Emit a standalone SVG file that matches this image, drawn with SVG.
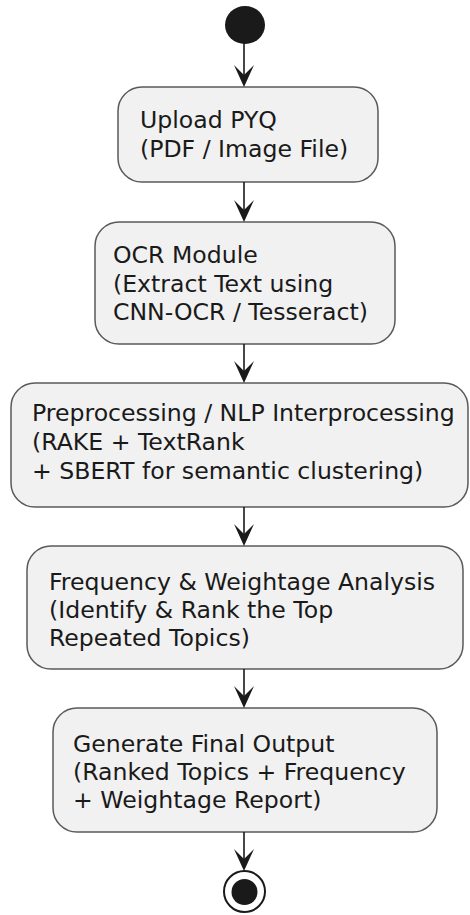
<svg xmlns="http://www.w3.org/2000/svg" width="470" height="915" viewBox="0 0 470 915">
<style>
.box{fill:#f1f1f1;stroke:#5a5a5a;stroke-width:1.5}
.t{font-family:"DejaVu Sans",sans-serif;font-size:23.6px;fill:#1a1a1a}
.ln{stroke:#1a1a1a;stroke-width:1.6;fill:none}
.ah{fill:#1a1a1a}
</style>
<defs>
<path id="head" d="M0,0 L-10,-22 L0,-12 L10,-22 Z"/>
</defs>
<rect width="470" height="915" fill="#ffffff"/>
<g id="start"><ellipse cx="245" cy="25" rx="20" ry="19" fill="#1a1a1a"/></g>
<g id="n1"><rect class="box" x="118" y="87" width="260" height="95" rx="24"/>
<text class="t" x="140" y="128">Upload PYQ</text><text class="t" x="140" y="157">(PDF / Image File)</text></g>
<g id="n2"><rect class="box" x="95" y="222" width="300" height="122" rx="24"/>
<text class="t" x="113" y="263">OCR Module</text><text class="t" x="113" y="292">(Extract Text using</text><text class="t" x="113" y="320">CNN-OCR / Tesseract)</text></g>
<g id="n3"><rect class="box" x="11" y="383" width="457" height="124" rx="24"/>
<text class="t" x="32" y="421">Preprocessing / NLP Interprocessing</text><text class="t" x="32" y="450">(RAKE + TextRank</text><text class="t" x="32" y="479">+ SBERT for semantic clustering)</text></g>
<g id="n4"><rect class="box" x="27" y="546" width="436" height="123" rx="24"/>
<text class="t" x="49" y="590">Frequency &amp; Weightage Analysis</text><text class="t" x="49" y="618">(Identify &amp; Rank the Top</text><text class="t" x="49" y="646">Repeated Topics)</text></g>
<g id="n5"><rect class="box" x="53" y="708" width="384" height="124" rx="24"/>
<text class="t" x="73" y="752">Generate Final Output</text><text class="t" x="73" y="780">(Ranked Topics + Frequency</text><text class="t" x="73" y="808">+ Weightage Report)</text></g>
<g id="end"><circle cx="244.5" cy="891.5" r="20.5" fill="#ffffff" stroke="#1a1a1a" stroke-width="2"/><circle cx="244.5" cy="892" r="13" fill="#1a1a1a"/></g>
<g id="connectors">
<line class="ln" x1="244" y1="43" x2="244" y2="80"/><use href="#head" class="ah" x="244" y="87"/>
<line class="ln" x1="244" y1="182" x2="244" y2="215"/><use href="#head" class="ah" x="244" y="222"/>
<line class="ln" x1="244" y1="344" x2="244" y2="376"/><use href="#head" class="ah" x="244" y="383"/>
<line class="ln" x1="244" y1="507" x2="244" y2="539"/><use href="#head" class="ah" x="244" y="546"/>
<line class="ln" x1="244" y1="669" x2="244" y2="701"/><use href="#head" class="ah" x="244" y="708"/>
<line class="ln" x1="244" y1="832" x2="244" y2="864"/><use href="#head" class="ah" x="244" y="871"/>
</g>
</svg>
